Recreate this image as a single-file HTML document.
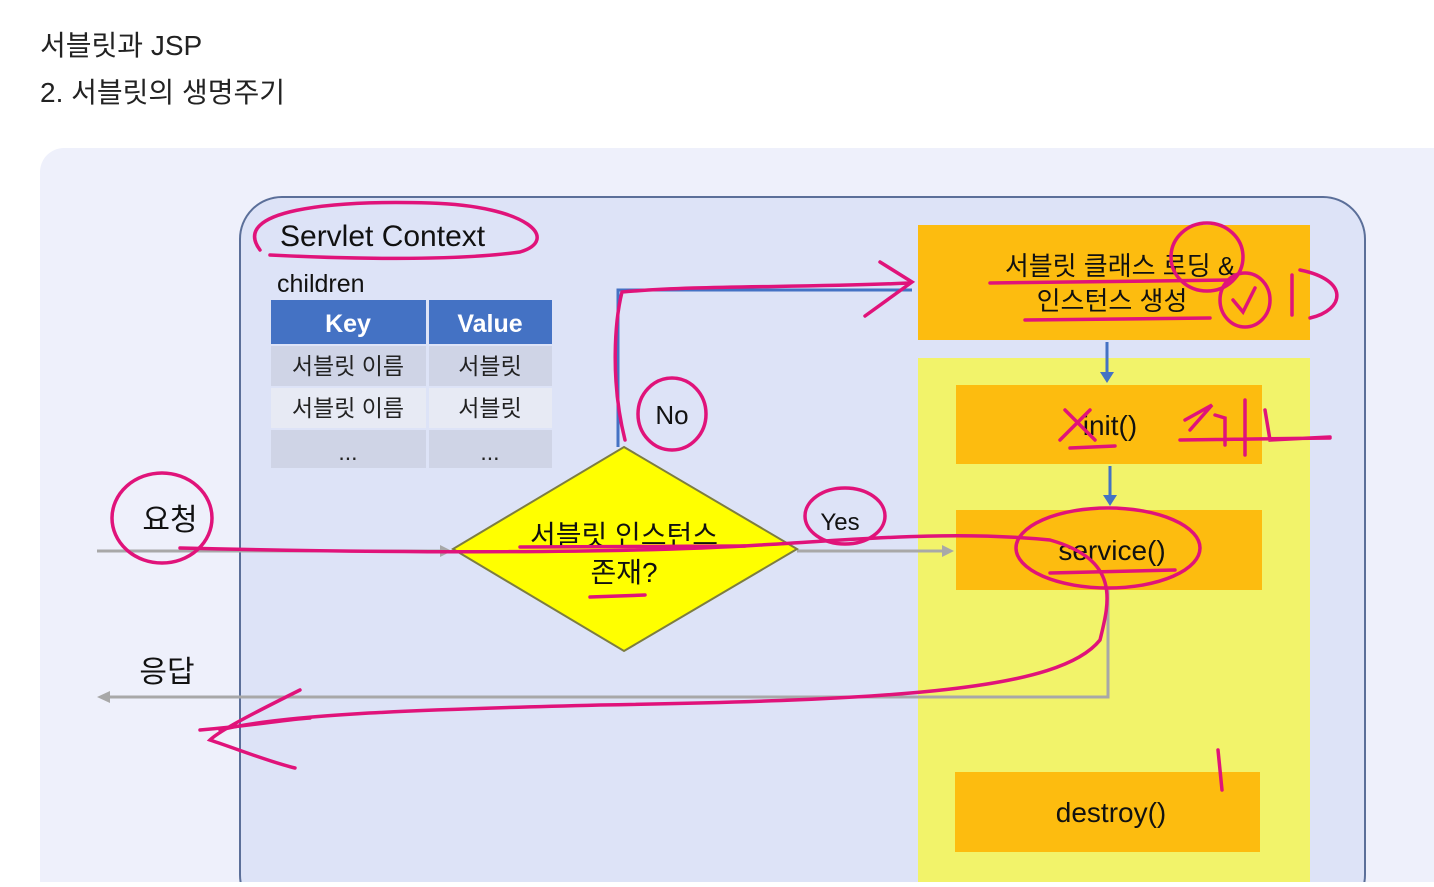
<!DOCTYPE html>
<html><head><meta charset="utf-8"><style>
body{margin:0;width:1434px;height:882px;overflow:hidden;background:#fff;font-family:"Liberation Sans","Noto Sans CJK KR",sans-serif}
</style></head><body>
<svg width="1434" height="882" viewBox="0 0 1434 882" xmlns="http://www.w3.org/2000/svg" font-family="Liberation Sans, Noto Sans CJK KR, sans-serif">
<text x="40" y="55" font-size="28" fill="#222">서블릿과 JSP</text>
<text x="40" y="102" font-size="28" fill="#222">2. 서블릿의 생명주기</text>
<rect x="40" y="148" width="1420" height="760" rx="24" fill="#eef0fb"/>
<rect x="240" y="197" width="1125" height="720" rx="42" fill="#dde3f7" stroke="#5b6f99" stroke-width="2"/>
<text x="280" y="246" font-size="30" fill="#111">Servlet Context</text>
<text x="277" y="292" font-size="25" fill="#111">children</text>
<rect x="271" y="300" width="155" height="44" fill="#4472c4"/><rect x="429" y="300" width="123" height="44" fill="#4472c4"/>
<text x="348" y="332" font-size="25" font-weight="bold" fill="#fff" text-anchor="middle">Key</text>
<text x="490" y="332" font-size="25" font-weight="bold" fill="#fff" text-anchor="middle">Value</text>
<rect x="271" y="346" width="155" height="40" fill="#cfd4e6"/><rect x="429" y="346" width="123" height="40" fill="#cfd4e6"/>
<rect x="271" y="388" width="155" height="40" fill="#e7eaf4"/><rect x="429" y="388" width="123" height="40" fill="#e7eaf4"/>
<rect x="271" y="430" width="155" height="38" fill="#cfd4e6"/><rect x="429" y="430" width="123" height="38" fill="#cfd4e6"/>
<g font-size="23" fill="#222" text-anchor="middle">
<text x="348" y="374">서블릿 이름</text><text x="490" y="374">서블릿</text>
<text x="348" y="416">서블릿 이름</text><text x="490" y="416">서블릿</text>
<text x="348" y="460">...</text><text x="490" y="460">...</text></g>
<rect x="918" y="225" width="392" height="115" fill="#fdbc0f"/>
<rect x="918" y="358" width="392" height="540" fill="#f2f36a"/>
<rect x="956" y="385" width="306" height="79" fill="#fdbc0f"/>
<rect x="956" y="510" width="306" height="80" fill="#fdbc0f"/>
<rect x="955" y="772" width="305" height="80" fill="#fdbc0f"/>
<g font-size="28" fill="#111" text-anchor="middle">
<text x="1120" y="275" font-size="26">서블릿 클래스 로딩 &amp;</text>
<text x="1112" y="310" font-size="26">인스턴스 생성</text>
<text x="1110" y="435">init()</text>
<text x="1112" y="560">service()</text>
<text x="1111" y="822">destroy()</text></g>
<polyline points="618,447 618,290 912,290" fill="none" stroke="#4472c4" stroke-width="3"/>
<line x1="1107" y1="342" x2="1107" y2="374" stroke="#4472c4" stroke-width="3"/><polygon points="1100,372 1114,372 1107,383" fill="#4472c4"/>
<line x1="1110" y1="466" x2="1110" y2="497" stroke="#4472c4" stroke-width="3"/><polygon points="1103,495 1117,495 1110,506" fill="#4472c4"/>
<g stroke="#a8a8a8" stroke-width="3" fill="none">
<line x1="97" y1="551" x2="440" y2="551"/><line x1="797" y1="551" x2="942" y2="551"/>
<polyline points="1108,590 1108,697 108,697"/></g>
<g fill="#a8a8a8"><polygon points="440,545 452,551 440,557"/><polygon points="942,545 954,551 942,557"/><polygon points="110,691 97,697 110,703"/></g>
<polygon points="624,447 797,549 624,651 453,549" fill="#ffff00" stroke="#7d7d40" stroke-width="2"/>
<text x="624" y="545" font-size="28" fill="#111" text-anchor="middle">서블릿 인스턴스</text>
<text x="624" y="582" font-size="28" fill="#111" text-anchor="middle">존재?</text>
<text x="672" y="424" font-size="26" fill="#111" text-anchor="middle">No</text>
<text x="840" y="530" font-size="24" fill="#111" text-anchor="middle">Yes</text>
<text x="170" y="530" font-size="30" fill="#111" text-anchor="middle">요청</text>
<text x="167" y="682" font-size="30" fill="#111" text-anchor="middle">응답</text>
<g stroke="#e0137a" stroke-width="3.5" fill="none" stroke-linecap="round">
<path d="M260,250 C230,210 330,200 430,203 C530,206 560,240 520,252 C450,262 330,258 270,255"/>
<path d="M625,440 C610,380 615,320 622,292 C700,285 800,288 910,283"/>
<path d="M880,262 L912,282 L865,316"/>
<ellipse cx="672" cy="414" rx="34" ry="36"/>
<ellipse cx="845" cy="516" rx="40" ry="28"/>
<ellipse cx="162" cy="518" rx="50" ry="45"/>
<path d="M180,548 C350,552 600,555 760,545 C850,540 950,530 1050,540 C1120,560 1110,600 1100,640 C1060,690 900,700 600,705 C400,710 280,715 220,730"/>
<path d="M300,690 C260,710 220,730 210,740 C240,750 270,762 295,768"/>
<path d="M200,730 C260,725 280,720 310,718"/>
<path d="M520,547 L745,546 M590,597 L645,595"/>
<ellipse cx="1108" cy="548" rx="92" ry="40"/>
<path d="M1050,573 L1175,570"/>
<path d="M990,283 L1230,280 M1025,320 L1210,318"/>
<ellipse cx="1207" cy="257" rx="36" ry="34"/>
<ellipse cx="1245" cy="300" rx="25" ry="27"/>
<path d="M1233,300 L1243,312 L1255,288"/>
<path d="M1300,270 C1350,280 1345,310 1310,318 M1292,275 L1292,315"/>
<path d="M1060,440 L1090,410 M1065,410 L1095,440 M1070,448 L1115,446"/>
<path d="M1185,420 L1212,405 L1190,430 M1215,415 L1225,418 L1225,445 M1245,400 L1245,455 M1265,410 L1270,440 L1330,437 M1180,440 L1330,438"/>
<path d="M1218,750 L1222,790"/></g>
</svg>
</body></html>
